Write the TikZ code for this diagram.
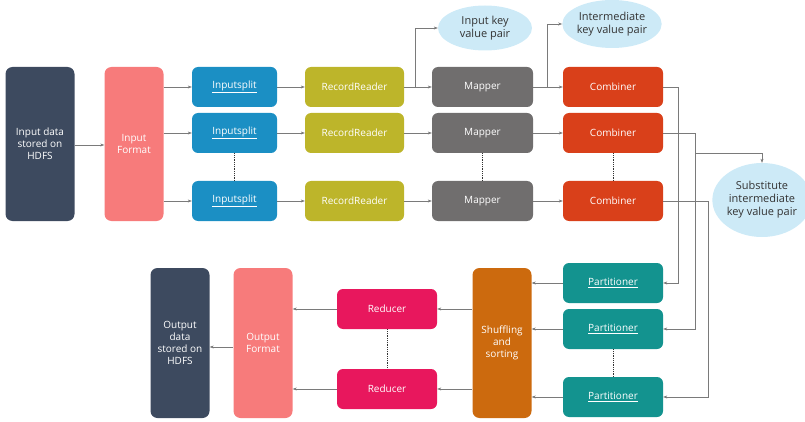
\documentclass[tikz,border=0pt]{standalone}
\usepackage{fontspec}
\setmainfont{Open Sans}
\usepackage{tikz}
\usetikzlibrary{shapes.geometric, arrows.meta, positioning, calc}

\definecolor{hdfsblue}{HTML}{3D4A5F}
\definecolor{fmtpink}{HTML}{F77B7B}
\definecolor{splitblue}{HTML}{1B8FC4}
\definecolor{readolive}{HTML}{BDB52A}
\definecolor{mapgrey}{HTML}{706E6E}
\definecolor{combred}{HTML}{D9401A}
\definecolor{kvblue}{HTML}{CDEAF7}
\definecolor{partteal}{HTML}{13938F}
\definecolor{shuforange}{HTML}{CC6A0E}
\definecolor{redpink}{HTML}{E8175D}
\definecolor{linegrey}{HTML}{7A7A7A}

\begin{document}
\begin{tikzpicture}[
    x=1pt, y=-1pt,
    >=Stealth,
    every node/.style={font=\fontsize{10}{12}\selectfont, text=white, align=center},
    box/.style={rounded corners=6pt, minimum height=40pt, inner sep=0pt},
    tallbox/.style={rounded corners=7pt, minimum width=59pt, minimum height=150pt, inner sep=0pt},
    kv/.style={ellipse, fill=kvblue, text=black!80, inner sep=0pt, font=\fontsize{11}{13}\selectfont},
    arr/.style={->, draw=linegrey, thin, >={Stealth[length=4pt,width=3pt]}},
    dotline/.style={draw=black!80, densely dotted, thick}
]
\useasboundingbox (0,0) rectangle (805,422);

% Input side
\node[tallbox, fill=hdfsblue, minimum width=69pt, minimum height=154pt] (indata) at (40,144) {Input data\\stored on\\HDFS};
\node[tallbox, fill=fmtpink, minimum height=154pt] (infmt) at (134,144) {Input\\Format};

% Inputsplit column
\node[box, fill=splitblue, minimum width=85pt] (isplit1) at (234.5,87) {\underline{Inputsplit}};
\node[box, fill=splitblue, minimum width=85pt] (isplit2) at (234.5,133) {\underline{Inputsplit}};
\node[box, fill=splitblue, minimum width=85pt] (isplit3) at (234.5,201) {\underline{Inputsplit}};

% RecordReader column
\node[box, fill=readolive, minimum width=99pt] (rread1) at (354.5,87) {RecordReader};
\node[box, fill=readolive, minimum width=99pt] (rread2) at (354.5,133) {RecordReader};
\node[box, fill=readolive, minimum width=99pt] (rread3) at (354.5,201) {RecordReader};

% Mapper column
\node[box, fill=mapgrey, minimum width=101pt] (mapper1) at (482.5,87) {Mapper};
\node[box, fill=mapgrey, minimum width=101pt] (mapper2) at (482.5,133) {Mapper};
\node[box, fill=mapgrey, minimum width=101pt] (mapper3) at (482.5,201) {Mapper};

% Combiner column
\node[box, fill=combred, minimum width=100pt] (comb1) at (613,87) {Combiner};
\node[box, fill=combred, minimum width=100pt] (comb2) at (613,133) {Combiner};
\node[box, fill=combred, minimum width=100pt] (comb3) at (613,201) {Combiner};

% Key value pairs
\node[kv, minimum width=94pt, minimum height=45pt] (ikv) at (485,28) {Input key\\value pair};
\node[kv, minimum width=92pt, minimum height=48pt] (mkv) at (612,24) {Intermediate\\key value pair};
\node[kv, minimum width=88pt, minimum height=74pt] (skv) at (762,200) {Substitute\\intermediate\\key value pair};

% Partitioner column
\node[box, fill=partteal, minimum width=100pt] (part1) at (613,283) {\underline{Partitioner}};
\node[box, fill=partteal, minimum width=100pt] (part2) at (613,329) {\underline{Partitioner}};
\node[box, fill=partteal, minimum width=100pt] (part3) at (613,397) {\underline{Partitioner}};

% Output side
\node[tallbox, fill=shuforange] (shuf) at (502,343) {Shuffling\\and\\sorting};
\node[box, fill=redpink, minimum width=100pt] (red1) at (387,309) {Reducer};
\node[box, fill=redpink, minimum width=100pt] (red2) at (387,389) {Reducer};
\node[tallbox, fill=fmtpink] (outfmt) at (263,343) {Output\\Format};
\node[tallbox, fill=hdfsblue] (outdata) at (180,343) {Output\\data\\stored on\\HDFS};

% Branch points
\coordinate (b1) at (415,87);
\coordinate (b2) at (547,87);
\coordinate (k1) at (678,87);
\coordinate (k2) at (695,133);
\coordinate (k3) at (708,201);
\coordinate (b3) at (695,153);

% Map side arrows
\draw[arr] (indata.east |- 0,145) -- (infmt.west |- 0,145);
\foreach \i in {1,2,3} {
  \draw[arr] (infmt.east |- isplit\i.west) -- (isplit\i.west);
  \draw[arr] (isplit\i) -- (rread\i);
  \draw[arr] (rread\i) -- (mapper\i);
  \draw[arr] (mapper\i) -- (comb\i);
}
\draw[arr] (b1) |- (ikv.west);
\draw[arr] (b2) |- (mkv.west);

% Combiner to Partitioner
\draw[arr] (comb1.east) -- (k1) |- (part1.east);
\draw[arr] (comb2.east) -- (k2) |- (part2.east);
\draw[arr] (comb3.east) -- (k3) |- (part3.east);
\draw[arr] (b3) -| (skv.north);

% Reduce side arrows
\foreach \i in {1,2,3}
  \draw[arr] (part\i.west) -- (shuf.east |- part\i.west);
\foreach \i in {1,2} {
  \draw[arr] (shuf.west |- red\i.east) -- (red\i.east);
  \draw[arr] (red\i.west) -- (outfmt.east |- red\i.west);
}
\draw[arr] (outfmt.west |- 0,347) -- (outdata.east |- 0,347);

% Dots between repeated boxes
\draw[dotline] (isplit2.south) -- (isplit3.north);
\draw[dotline] (mapper2.south) -- (mapper3.north);
\draw[dotline] (comb2.south) -- (comb3.north);
\draw[dotline] (part2.south) -- (part3.north);
\draw[dotline] (red1.south) -- (red2.north);

\end{tikzpicture}
\end{document}
